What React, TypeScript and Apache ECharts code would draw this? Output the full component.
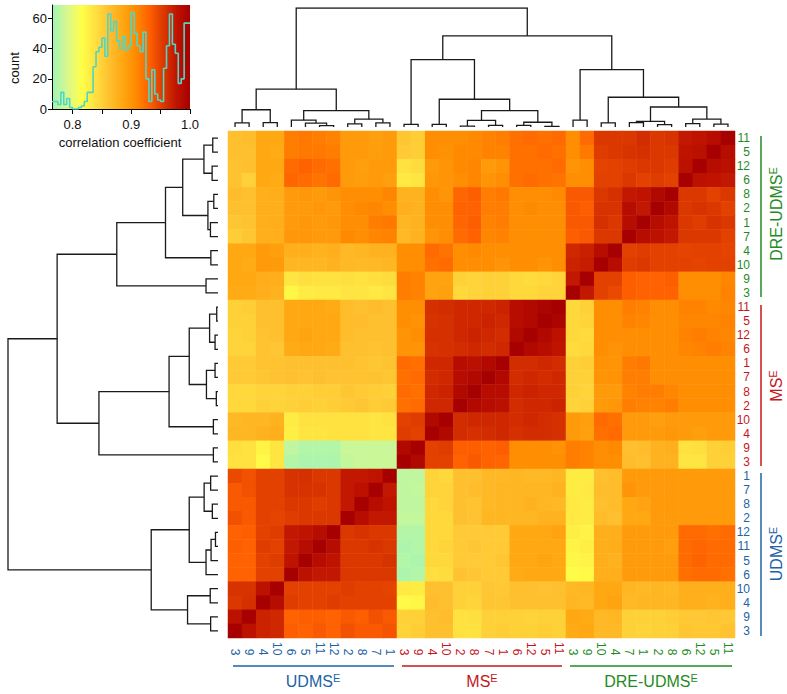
import React, { useEffect, useRef } from 'react';
import * as echarts from 'echarts';

const FONT = '"Liberation Sans", Arial, Helvetica, sans-serif';

// ---- labels (row order, top to bottom) ----
const DRE = ['11', '5', '12', '6', '8', '2', '1', '7', '4', '10', '9', '3'];
const MS = ['11', '5', '12', '6', '1', '7', '8', '2', '10', '4', '9', '3'];
const UDMS = ['1', '7', '8', '2', '12', '11', '5', '6', '10', '4', '9', '3'];

const GROUP_COLORS: Record<string, string> = { D: '#1f8b24', M: '#c4161c', U: '#2162a6' };

// ---- colour scale ----
const CMAP_MIN = 0.77;
const CMAP_MAX = 1.0;
const CMAP = ['#a8f5b0', '#dcf88a', '#ffff48', '#ffe040', '#ffc030', '#ffa812', '#ff8a00', '#ff6000', '#dc3a00', '#c01400', '#a60000'];

// ---- histogram of correlation coefficients ----
const HIST_START = 0.765;
const HIST_BIN = 0.005;
const histCounts = [5, 5, 3, 11, 3, 7, 1, 0, 0, 1, 2, 5, 11, 11, 28, 38, 41, 47, 35, 63, 52, 58, 45, 40, 48, 39, 42, 64, 50, 42, 38, 51, 20, 5, 26, 10, 6, 5, 27, 42, 63, 43, 37, 17, 20, 57, 57];

// ---- heatmap rows (top to bottom), values left to right ----
const dreRows = [
  [.862,.865,.885,.885,.915,.918,.915,.912,.895,.895,.892,.895,.858,.852,.905,.905,.905,.908,.912,.915,.922,.925,.922,.925,.905,.925,.955,.955,.955,.962,.955,.958,.975,.978,.985,1],
  [.862,.862,.885,.882,.915,.918,.918,.915,.895,.895,.893,.895,.855,.852,.905,.903,.908,.908,.912,.912,.922,.922,.925,.922,.905,.918,.952,.955,.958,.96,.955,.955,.978,.982,1,.985],
  [.86,.862,.885,.885,.925,.93,.925,.922,.895,.892,.895,.895,.838,.842,.895,.9,.908,.91,.895,.9,.922,.922,.922,.925,.9,.905,.948,.95,.952,.955,.955,.952,.98,1,.985,.982],
  [.86,.85,.885,.882,.928,.925,.92,.925,.895,.893,.895,.892,.832,.835,.898,.9,.905,.91,.9,.905,.922,.925,.922,.92,.905,.905,.95,.95,.955,.95,.952,.95,1,.98,.978,.975],
  [.865,.862,.878,.88,.895,.898,.895,.9,.905,.905,.905,.91,.875,.875,.905,.9,.928,.932,.915,.918,.905,.905,.905,.908,.935,.935,.955,.96,.975,.978,.99,1,.955,.955,.95,.955],
  [.862,.862,.878,.878,.895,.895,.898,.895,.905,.908,.91,.905,.878,.875,.905,.905,.93,.93,.915,.915,.905,.908,.905,.905,.935,.932,.958,.958,.985,.975,1,.99,.955,.958,.955,.95],
  [.858,.86,.878,.88,.895,.898,.895,.898,.905,.905,.915,.918,.872,.875,.905,.905,.928,.932,.912,.915,.905,.905,.905,.905,.935,.935,.96,.955,.985,1,.985,.978,.955,.952,.958,.955],
  [.852,.858,.878,.878,.898,.898,.895,.895,.908,.905,.91,.912,.87,.875,.9,.905,.925,.93,.91,.912,.905,.905,.905,.905,.932,.935,.955,.955,1,.985,.98,.975,.955,.955,.955,.95],
  [.885,.885,.895,.892,.878,.878,.875,.878,.87,.872,.875,.875,.905,.905,.925,.92,.905,.908,.905,.905,.905,.905,.905,.905,.965,.97,.985,1,.95,.952,.95,.95,.948,.95,.95,.948],
  [.885,.882,.895,.895,.872,.872,.872,.875,.87,.868,.87,.872,.905,.905,.922,.925,.905,.905,.905,.9,.905,.905,.9,.905,.968,.972,1,.985,.952,.955,.95,.95,.95,.948,.95,.95],
  [.885,.885,.88,.878,.835,.84,.838,.838,.84,.838,.84,.842,.915,.912,.888,.888,.85,.848,.85,.85,.845,.842,.845,.848,.975,1,.95,.95,.932,.93,.93,.932,.905,.905,.905,.91],
  [.882,.882,.878,.875,.822,.83,.832,.832,.835,.835,.832,.835,.915,.912,.888,.89,.845,.848,.85,.85,.845,.845,.848,.848,1,.975,.95,.945,.932,.93,.93,.93,.905,.905,.905,.912],
];
const msRows = [
  [.85,.852,.862,.862,.885,.885,.885,.882,.865,.862,.865,.862,.905,.905,.96,.962,.965,.965,.965,.968,.985,.99,.995,1,.845,.85,.905,.905,.915,.912,.905,.905,.912,.912,.908,.91],
  [.85,.85,.862,.862,.885,.885,.885,.885,.865,.865,.862,.862,.905,.902,.958,.96,.965,.965,.968,.965,.985,.99,1,.995,.845,.848,.905,.905,.912,.91,.905,.905,.91,.91,.91,.912],
  [.848,.85,.86,.862,.885,.888,.885,.885,.865,.862,.862,.862,.9,.905,.96,.96,.965,.968,.965,.962,.99,1,.99,.98,.845,.842,.905,.905,.905,.905,.905,.905,.912,.915,.912,.91],
  [.848,.848,.86,.858,.882,.885,.885,.882,.862,.862,.86,.862,.9,.9,.958,.96,.962,.965,.962,.965,1,.99,.985,.978,.842,.845,.905,.902,.905,.905,.905,.905,.91,.912,.915,.912],
  [.855,.855,.86,.86,.862,.862,.862,.862,.862,.86,.858,.86,.925,.922,.965,.965,.985,.982,.99,1,.962,.962,.965,.962,.85,.852,.902,.9,.915,.918,.905,.905,.905,.905,.905,.905],
  [.855,.855,.858,.86,.862,.86,.862,.86,.86,.86,.86,.858,.922,.925,.962,.965,.985,.99,1,.99,.962,.965,.962,.965,.85,.85,.9,.902,.915,.915,.905,.905,.905,.905,.905,.905],
  [.845,.845,.848,.848,.85,.85,.852,.852,.858,.855,.852,.85,.925,.922,.965,.968,.99,1,.985,.985,.965,.968,.965,.965,.85,.848,.895,.895,.912,.915,.915,.91,.905,.905,.905,.905],
  [.845,.845,.85,.848,.85,.852,.85,.852,.855,.858,.852,.855,.922,.925,.965,.965,1,.99,.985,.982,.962,.965,.965,.968,.848,.85,.895,.898,.915,.912,.912,.915,.905,.905,.905,.905],
  [.87,.872,.872,.875,.83,.838,.838,.838,.838,.838,.835,.838,.95,.952,.99,1,.962,.965,.965,.965,.962,.965,.962,.96,.895,.892,.925,.922,.895,.895,.892,.895,.895,.895,.895,.895],
  [.872,.872,.875,.878,.828,.835,.835,.838,.838,.838,.835,.835,.952,.95,1,.99,.962,.96,.962,.965,.96,.962,.962,.96,.895,.89,.922,.925,.895,.895,.895,.898,.895,.892,.895,.895],
  [.84,.838,.825,.835,.78,.775,.775,.775,.785,.785,.785,.785,.99,1,.95,.952,.932,.932,.93,.932,.905,.905,.905,.902,.915,.912,.905,.908,.862,.865,.875,.878,.838,.84,.85,.852],
  [.838,.838,.82,.835,.775,.772,.772,.772,.782,.785,.785,.785,1,.99,.95,.95,.93,.935,.93,.928,.905,.905,.905,.905,.915,.912,.905,.905,.865,.862,.875,.875,.835,.835,.85,.85],
];
const udmsRows = [
  [.945,.94,.95,.95,.958,.96,.955,.955,.975,.975,.978,1,.78,.78,.848,.845,.862,.862,.87,.87,.872,.87,.87,.872,.83,.83,.862,.865,.895,.895,.895,.895,.895,.895,.895,.895],
  [.935,.94,.95,.95,.958,.958,.958,.955,.975,.98,1,.975,.78,.782,.848,.848,.862,.865,.87,.872,.872,.872,.872,.875,.83,.832,.865,.865,.9,.895,.895,.895,.895,.895,.895,.895],
  [.935,.935,.95,.95,.955,.955,.952,.955,.975,1,.985,.978,.78,.78,.845,.848,.862,.86,.87,.872,.872,.875,.872,.87,.832,.83,.862,.865,.885,.888,.895,.895,.895,.895,.895,.895],
  [.94,.935,.95,.948,.952,.955,.955,.955,1,.985,.975,.975,.782,.782,.845,.845,.862,.86,.872,.872,.872,.872,.875,.875,.832,.83,.865,.862,.885,.885,.895,.895,.895,.895,.895,.895],
  [.93,.932,.95,.952,.975,.978,.985,1,.955,.958,.955,.955,.775,.775,.845,.845,.855,.855,.855,.855,.885,.885,.885,.888,.828,.825,.878,.878,.895,.895,.895,.895,.925,.925,.922,.925],
  [.932,.93,.952,.95,.975,.985,1,.985,.955,.955,.958,.955,.772,.775,.845,.848,.855,.858,.855,.855,.885,.885,.885,.885,.825,.828,.878,.88,.895,.895,.895,.892,.925,.928,.925,.925],
  [.93,.93,.95,.952,.978,1,.985,.978,.955,.955,.955,.958,.775,.772,.845,.845,.855,.855,.855,.858,.885,.885,.888,.885,.822,.825,.878,.875,.895,.895,.895,.895,.925,.93,.925,.925],
  [.93,.93,.95,.95,1,.98,.975,.975,.955,.955,.955,.955,.772,.775,.84,.842,.86,.858,.855,.855,.882,.885,.885,.885,.818,.82,.878,.878,.895,.895,.895,.895,.922,.925,.925,.922],
  [.958,.958,.98,1,.95,.95,.95,.95,.952,.95,.95,.948,.832,.83,.862,.862,.85,.85,.858,.856,.862,.862,.86,.862,.87,.872,.885,.885,.872,.87,.872,.87,.878,.878,.878,.878],
  [.955,.96,1,.985,.952,.95,.95,.952,.95,.95,.95,.95,.82,.822,.865,.862,.85,.848,.858,.858,.862,.862,.862,.862,.872,.87,.885,.888,.87,.872,.872,.872,.878,.878,.875,.878],
  [.98,1,.968,.965,.93,.932,.932,.93,.935,.932,.94,.935,.85,.85,.862,.865,.838,.84,.85,.85,.85,.848,.85,.85,.885,.882,.87,.872,.85,.85,.85,.852,.856,.856,.858,.856],
  [1,.98,.968,.965,.932,.93,.935,.93,.94,.935,.935,.938,.848,.852,.862,.862,.838,.838,.85,.852,.85,.85,.852,.85,.882,.885,.87,.87,.85,.848,.85,.85,.858,.856,.856,.86],
];

// ---- dendrogram: merges of the row-ordered leaves 0..35, [childA, childB, height] ----
// node ids 36+ refer to earlier merges in this list
const merges: [number, number, number][] = [
  [0, 1, 0.025], [2, 3, 0.028], [36, 37, 0.067], [4, 5, 0.02], [6, 7, 0.036], [39, 40, 0.048],
  [38, 41, 0.168], [8, 9, 0.034], [42, 43, 0.25], [10, 11, 0.057], [44, 45, 0.482],
  [12, 13, 0.006], [14, 15, 0.014], [47, 48, 0.04], [16, 17, 0.014], [18, 19, 0.008], [50, 51, 0.055],
  [49, 52, 0.137], [20, 21, 0.022], [53, 54, 0.233], [22, 23, 0.022], [55, 56, 0.567], [46, 57, 0.766],
  [24, 25, 0.035], [26, 27, 0.027], [59, 60, 0.066], [28, 29, 0.012], [62, 30, 0.033], [63, 31, 0.057],
  [61, 64, 0.137], [32, 33, 0.037], [34, 35, 0.035], [66, 67, 0.145], [65, 68, 0.318], [58, 69, 1.0],
];

const rowKeys = [...DRE.map((n) => 'D|' + n), ...MS.map((n) => 'M|' + n), ...UDMS.map((n) => 'U|' + n)];
const colKeys = [...rowKeys].reverse();
const N = rowKeys.length;

function dendroCoords(top: boolean) {
  const pos: number[] = [];
  const ht: number[] = [];
  for (let i = 0; i < N; i++) { pos[i] = i; ht[i] = 0; }
  const out: { coords: number[][] }[] = [];
  merges.forEach(([a, b, h], k) => {
    const id = N + k;
    pos[id] = (pos[a] + pos[b]) / 2;
    ht[id] = h;
    const pts = [[pos[a], ht[a]], [pos[a], h], [pos[b], h], [pos[b], ht[b]]];
    out.push({ coords: pts.map(([p, hh]) => (top ? [N - 1 - p, hh] : [hh, p])) });
  });
  return out;
}

function groupText(name: string, color: string, x: number, y: number, rotation: number) {
  return {
    type: 'text', x, y, rotation,
    style: {
      text: `{m|${name}}{s|E}`,
      align: 'center', verticalAlign: 'middle',
      rich: {
        m: { fontSize: 16, fontFamily: FONT, fill: color, lineHeight: 18 },
        s: { fontSize: 11, fontFamily: FONT, fill: color, lineHeight: 10, verticalAlign: 'top' },
      },
    },
  };
}
function gLine(x1: number, y1: number, x2: number, y2: number, color: string) {
  return { type: 'line', shape: { x1, y1, x2, y2 }, style: { stroke: color, lineWidth: 1.5 } };
}

export default function App() {
  const ref = useRef<HTMLDivElement>(null);
  useEffect(() => {
    document.body.style.margin = '0';
    if (!ref.current) return;
    const chart = echarts.init(ref.current, null, { renderer: 'svg' });

    const allRows = [...dreRows, ...msRows, ...udmsRows];
    const heatData: number[][] = [];
    allRows.forEach((row, r) => row.forEach((v, c) => heatData.push([c, r, v])));

    const histData = histCounts.map((c, i) => [HIST_START + i * HIST_BIN, c]);
    histData.push([HIST_START + histCounts.length * HIST_BIN, histCounts[histCounts.length - 1]]);

    const histRange = 1.0 - HIST_START;
    const grad = new echarts.graphic.LinearGradient(0, 0, 1, 0,
      CMAP.map((c, i) => ({
        offset: Math.max(0, Math.min(1, (CMAP_MIN + (i * (CMAP_MAX - CMAP_MIN)) / (CMAP.length - 1) - HIST_START) / histRange)),
        color: c,
      })));

    const labelColor = (v: any) => GROUP_COLORS[String(v)[0]];
    const labelFmt = (v: any) => String(v).split('|')[1];
    // bottom labels read downward and end on a common line: pad one-digit labels with a figure space
    const bottomFmt = (v: any) => {
      const n = String(v).split('|')[1];
      return n.length < 2 ? '\u2007' + n : n;
    };

    chart.setOption({
      animation: false,
      textStyle: { fontFamily: FONT },
      grid: [
        { left: 52, top: 5, width: 138, height: 104, show: true, borderWidth: 0, backgroundColor: grad },
        { left: 8, top: 131, width: 210, height: 507 },
        { left: 228, top: 8, width: 507, height: 119 },
        { left: 228, top: 131, width: 507, height: 507 },
      ],
      xAxis: [
        {
          gridIndex: 0, type: 'value', min: HIST_START, max: 1.0,
          axisLine: { show: true, lineStyle: { color: '#000', width: 1 } },
          axisTick: { show: true, length: 5, lineStyle: { color: '#000' }, customValues: [0.8, 0.85, 0.9, 0.95, 1.0] },
          axisLabel: { customValues: [0.8, 0.9, 1.0], formatter: (v: number) => v.toFixed(1), fontSize: 13, color: '#111', margin: 9, fontFamily: FONT },
          splitLine: { show: false },
        },
        { gridIndex: 1, type: 'value', min: 0, max: 1, inverse: true, show: false },
        { gridIndex: 2, type: 'value', min: -0.5, max: N - 0.5, show: false },
        {
          gridIndex: 3, type: 'category', data: colKeys, position: 'bottom',
          axisLine: { show: false }, axisTick: { show: false }, splitLine: { show: false },
          axisLabel: {
            interval: 0, rotate: -90, align: 'left', verticalAlign: 'middle', margin: 4,
            fontSize: 12, fontFamily: FONT, formatter: bottomFmt, color: labelColor,
          },
        },
      ],
      yAxis: [
        {
          gridIndex: 0, type: 'value', min: 0, max: 69,
          axisLine: { show: true, lineStyle: { color: '#000', width: 1 } },
          axisTick: { show: true, length: 4, lineStyle: { color: '#000' }, customValues: [0, 20, 40, 60] },
          axisLabel: { customValues: [0, 20, 40, 60], fontSize: 13, color: '#111', margin: 5, fontFamily: FONT },
          splitLine: { show: false },
        },
        { gridIndex: 1, type: 'value', min: -0.5, max: N - 0.5, inverse: true, show: false },
        { gridIndex: 2, type: 'value', min: 0, max: 1, show: false },
        {
          gridIndex: 3, type: 'category', data: rowKeys, inverse: true, position: 'right',
          axisLine: { show: false }, axisTick: { show: false }, splitLine: { show: false },
          axisLabel: {
            interval: 0, align: 'right', margin: 15,
            fontSize: 12, fontFamily: FONT, formatter: labelFmt, color: labelColor,
          },
        },
      ],
      visualMap: {
        type: 'continuous', show: false, seriesIndex: 3,
        min: CMAP_MIN, max: CMAP_MAX, inRange: { color: CMAP },
      },
      series: [
        {
          type: 'line', xAxisIndex: 0, yAxisIndex: 0, data: histData, step: 'end',
          symbol: 'none', lineStyle: { color: '#4fd6c6', width: 1.6 }, silent: true,
        },
        {
          type: 'lines', coordinateSystem: 'cartesian2d', xAxisIndex: 1, yAxisIndex: 1,
          polyline: true, data: dendroCoords(false), silent: true,
          lineStyle: { color: '#1a1a1a', width: 1.3, opacity: 1 },
        },
        {
          type: 'lines', coordinateSystem: 'cartesian2d', xAxisIndex: 2, yAxisIndex: 2,
          polyline: true, data: dendroCoords(true), silent: true,
          lineStyle: { color: '#1a1a1a', width: 1.3, opacity: 1 },
        },
        {
          type: 'heatmap', xAxisIndex: 3, yAxisIndex: 3, data: heatData, silent: true,
          itemStyle: { borderWidth: 0 },
        },
      ],
      graphic: [
        { type: 'text', x: 14, y: 68, rotation: Math.PI / 2, style: { text: 'count', fontSize: 13, fontFamily: FONT, fill: '#111', align: 'center', verticalAlign: 'middle' } },
        { type: 'text', x: 120, y: 142, style: { text: 'correlation coefficient', fontSize: 13, fontFamily: FONT, fill: '#111', align: 'center', verticalAlign: 'middle' } },
        gLine(233, 666, 394, 666, GROUP_COLORS.U),
        gLine(402, 666, 562, 666, GROUP_COLORS.M),
        gLine(570, 666, 732, 666, GROUP_COLORS.D),
        groupText('UDMS', GROUP_COLORS.U, 313, 681, 0),
        groupText('MS', GROUP_COLORS.M, 482, 681, 0),
        groupText('DRE-UDMS', GROUP_COLORS.D, 651, 681, 0),
        gLine(761, 136, 761, 297, GROUP_COLORS.D),
        gLine(761, 305, 761, 466, GROUP_COLORS.M),
        gLine(761, 473, 761, 636, GROUP_COLORS.U),
        groupText('DRE-UDMS', GROUP_COLORS.D, 776, 214, Math.PI / 2),
        groupText('MS', GROUP_COLORS.M, 776, 386, Math.PI / 2),
        groupText('UDMS', GROUP_COLORS.U, 776, 554, Math.PI / 2),
      ],
    });
    return () => chart.dispose();
  }, []);
  return <div ref={ref} style={{ width: 787, height: 694 }} />;
}
